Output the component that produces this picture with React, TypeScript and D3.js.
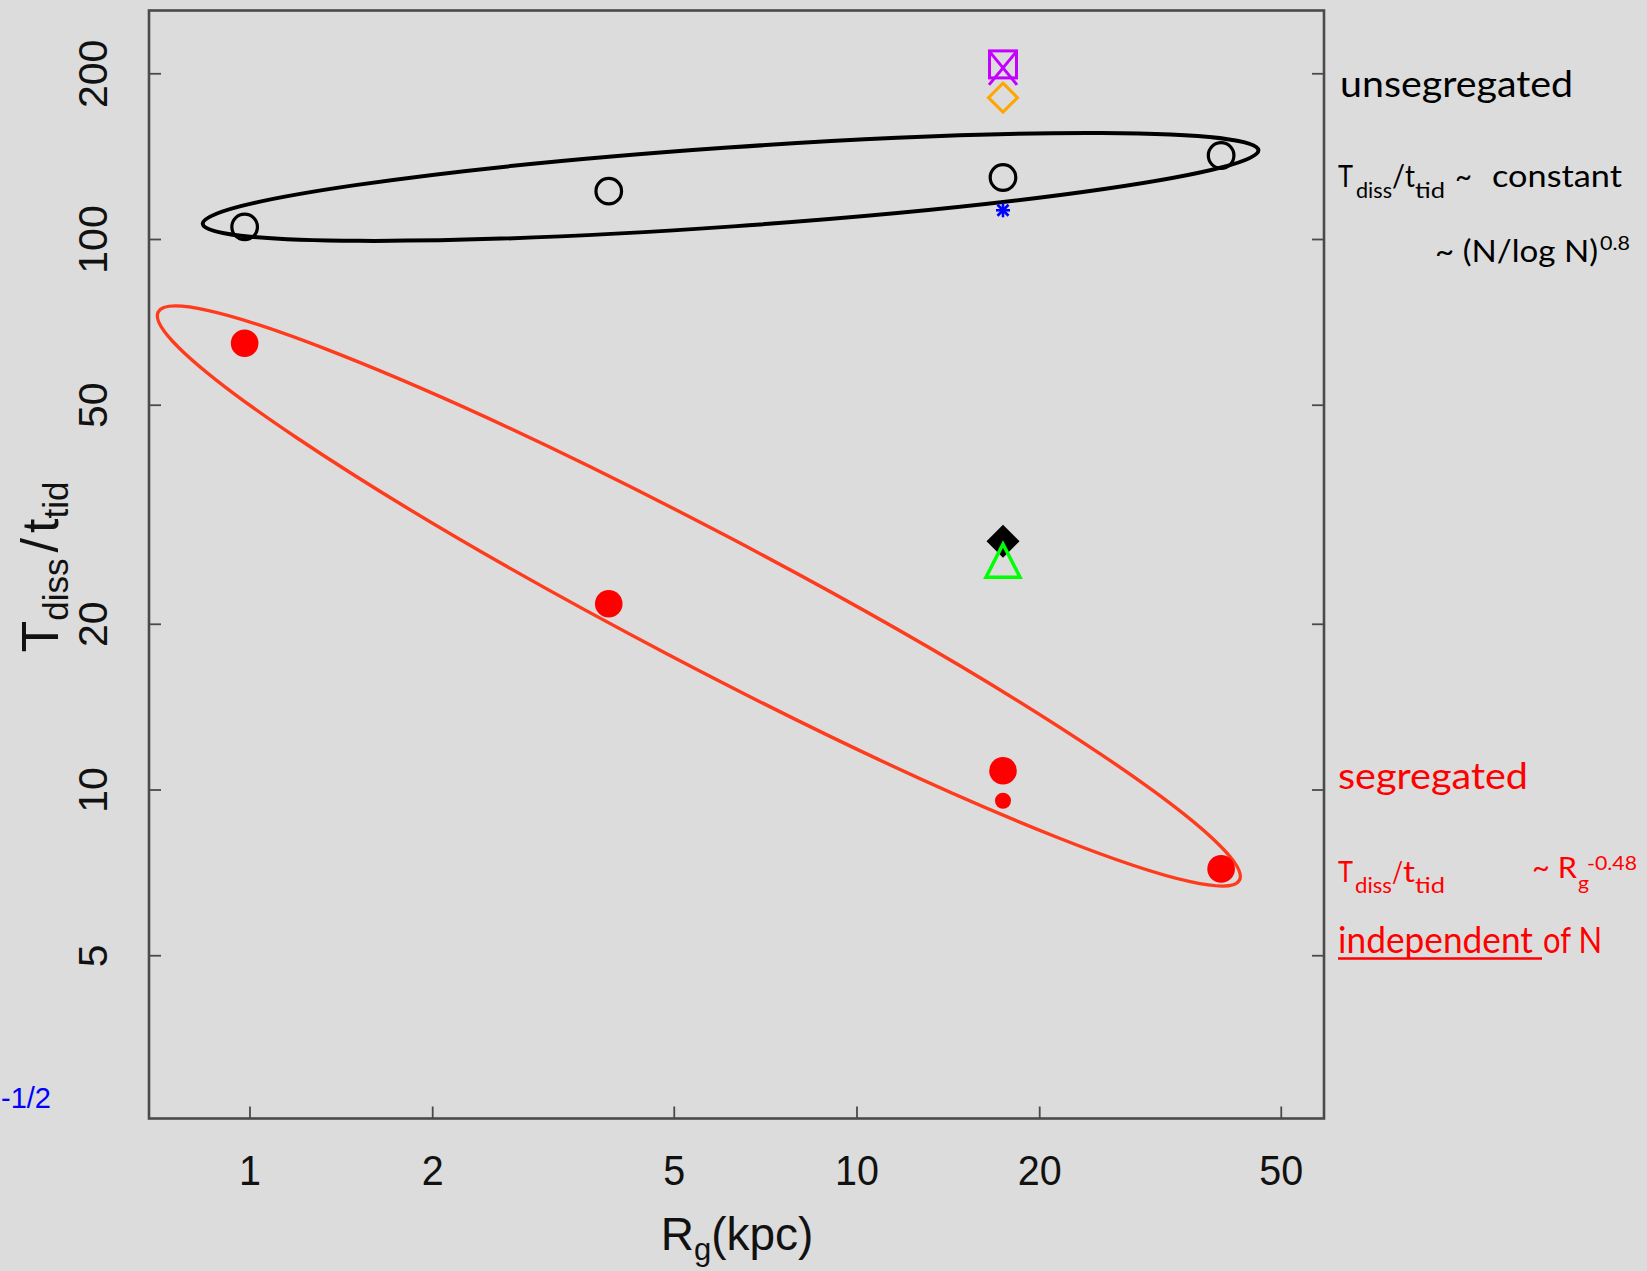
import React from 'react';
import * as d3 from 'd3';

const W = 1647;
const H = 1271;

// Axis ticks
const xTicks = [1, 2, 5, 10, 20, 50];
const yTicks = [5, 10, 20, 50, 100, 200];

// Main series: Rg (kpc) and Tdiss/ttid
const rgGrid = [0.98, 3.9, 17.4, 39.8];
const unsegregated = [105.4, 122.4, 129.6, 142.1];
const segregated = [64.8, 21.8, 10.84, 7.19];

// Extra points at Rg ~ 17.4 kpc
const rgExtra = 17.4;
const smallRed = 9.56;
const blueStar = 113;
const orangeDiamond = 181;
const magentaSquare = 208;
const magentaCross = 205;
const blackDiamond = 28.3;
const greenTriangle = 26.1;

// Annotation ellipses: end points of the major axis in data units
const blackEllipseEnds: [number, number][] = [[0.836, 106.8], [45.85, 145.3]];
const redEllipseEnds: [number, number][] = [[0.706, 73.85], [42.67, 6.86]];

const FRAME = { left: 149, right: 1324, top: 10.5, bottom: 1118.5 };
const BG = '#dcdcdc';
const AXIS = '#4a4a4a';
const SANS = "'Liberation Sans', Arial, Helvetica, sans-serif";
const HUM = "Lato, 'Open Sans', sans-serif";

export default function App() {
  const x = d3.scaleLog().domain([0.6818, 58.8]).range([FRAME.left, FRAME.right]);
  const y = d3.scaleLog().domain([2.531, 260.6]).range([FRAME.bottom, FRAME.top]);

  const ellipse = (ends: [number, number][], halfWidth: number, color: string, sw: number) => {
    const x1 = x(ends[0][0]), y1 = y(ends[0][1]);
    const x2 = x(ends[1][0]), y2 = y(ends[1][1]);
    const cx = (x1 + x2) / 2, cy = (y1 + y2) / 2;
    const a = Math.hypot(x2 - x1, y2 - y1) / 2;
    const ang = (Math.atan2(y2 - y1, x2 - x1) * 180) / Math.PI;
    return (
      <ellipse cx={cx} cy={cy} rx={a} ry={halfWidth} fill="none" stroke={color} strokeWidth={sw}
        transform={`rotate(${ang},${cx},${cy})`} />
    );
  };

  const cx0 = x(rgExtra);
  const tick = 12;

  return (
    <svg width={W} height={H} style={{ position: 'absolute', left: 0, top: 0, display: 'block' }}
      fontFamily={SANS}>
      <rect x={0} y={0} width={W} height={H} fill={BG} />

      {/* ticks */}
      {xTicks.map((t) => (
        <g key={'xt' + t}>
          <line x1={x(t)} x2={x(t)} y1={FRAME.bottom} y2={FRAME.bottom - tick} stroke={AXIS} strokeWidth={1.8} />
          <text transform={`translate(${x(t)},1185) scale(0.94,1)`} textAnchor="middle" fontSize={42} fill="#111">{t}</text>
        </g>
      ))}
      {yTicks.map((t) => (
        <g key={'yt' + t}>
          <line x1={FRAME.left} x2={FRAME.left + tick} y1={y(t)} y2={y(t)} stroke={AXIS} strokeWidth={1.8} />
          <line x1={FRAME.right} x2={FRAME.right - tick} y1={y(t)} y2={y(t)} stroke={AXIS} strokeWidth={1.8} />
          <text transform={`translate(107,${y(t)}) rotate(-90)`} textAnchor="middle" fontSize={41} fill="#111">{t}</text>
        </g>
      ))}

      {/* frame */}
      <rect x={FRAME.left} y={FRAME.top} width={FRAME.right - FRAME.left} height={FRAME.bottom - FRAME.top}
        fill="none" stroke={AXIS} strokeWidth={2.6} />

      {/* axis titles */}
      <text x={737} y={1250} textAnchor="middle" fontSize={46} fill="#111">
        R<tspan fontSize={31} dy={10}>g</tspan><tspan dy={-10}>(kpc)</tspan>
      </text>
      <text transform="translate(58,567) rotate(-90)" textAnchor="middle" fontSize={52} fill="#111">
        T<tspan fontSize={35} dy={10}>diss</tspan><tspan dy={-10} dx={6}>/</tspan><tspan dx={5}>t</tspan>
        <tspan fontSize={35} dy={10}>tid</tspan>
      </text>

      {/* ellipses */}
      {ellipse(blackEllipseEnds, 39.5, '#000', 4)}
      {ellipse(redEllipseEnds, 66, '#ff3b1d', 3.4)}

      {/* unsegregated: open black circles */}
      {rgGrid.map((r, i) => (
        <circle key={'u' + i} cx={x(r)} cy={y(unsegregated[i])} r={12.8} fill="none" stroke="#000" strokeWidth={3.2} />
      ))}
      {/* segregated: filled red circles */}
      {rgGrid.map((r, i) => (
        <circle key={'s' + i} cx={x(r)} cy={y(segregated[i])} r={13.8} fill="#ff0000" />
      ))}
      <circle cx={cx0} cy={y(smallRed)} r={8} fill="#ff0000" />

      {/* blue star */}
      <g stroke="#0000ff" strokeWidth={2.6} transform={`translate(${cx0},${y(blueStar)})`}>
        <line x1={-7} x2={7} y1={0} y2={0} />
        <line x1={0} x2={0} y1={-7} y2={7} />
        <line x1={-5.5} x2={5.5} y1={-5.5} y2={5.5} />
        <line x1={-5.5} x2={5.5} y1={5.5} y2={-5.5} />
      </g>

      {/* orange diamond */}
      <path transform={`translate(${cx0},${y(orangeDiamond)})`} d="M0,-14.5L14.5,0L0,14.5L-14.5,0Z"
        fill="none" stroke="#ffa500" strokeWidth={3} />

      {/* magenta square + cross */}
      <rect x={cx0 - 13.5} y={y(magentaSquare) - 13.5} width={27} height={27} fill="none" stroke="#c400ff" strokeWidth={3} />
      <g stroke="#c400ff" strokeWidth={3} transform={`translate(${cx0},${y(magentaCross)})`}>
        <line x1={-14} y1={-17} x2={14} y2={17} />
        <line x1={14} y1={-17} x2={-14} y2={17} />
      </g>

      {/* black filled diamond */}
      <path transform={`translate(${cx0},${y(blackDiamond)})`} d="M0,-16.5L16.5,0L0,16.5L-16.5,0Z" fill="#000" />

      {/* green open triangle */}
      <path transform={`translate(${cx0},${y(greenTriangle)})`} d="M0,-16.5L17,16.5L-17,16.5Z"
        fill="none" stroke="#00ff00" strokeWidth={3.5} strokeLinejoin="miter" />

      {/* right annotations: unsegregated */}
      <g fontFamily={HUM} fill="#000">
        <text x={1340} y={97} fontSize={37} textLength={233} lengthAdjust="spacingAndGlyphs">unsegregated</text>
        <text x={1338} y={187} fontSize={31} textLength={15} lengthAdjust="spacingAndGlyphs">T</text>
        <text x={1356} y={198} fontSize={21} textLength={36} lengthAdjust="spacingAndGlyphs">diss</text>
        <text x={1392} y={187} fontSize={31} textLength={13} lengthAdjust="spacingAndGlyphs">/</text>
        <text x={1405} y={187} fontSize={31} textLength={10} lengthAdjust="spacingAndGlyphs">t</text>
        <text x={1415} y={198} fontSize={21} textLength={30} lengthAdjust="spacingAndGlyphs">tid</text>
        <text x={1455} y={187} fontSize={31} textLength={17} lengthAdjust="spacingAndGlyphs">~</text>
        <text x={1492} y={187} fontSize={31} textLength={130} lengthAdjust="spacingAndGlyphs">constant</text>
        <text x={1435} y={262} fontSize={30} textLength={163} lengthAdjust="spacingAndGlyphs">~ (N/log N)</text>
        <text x={1600} y={250} fontSize={19} textLength={30} lengthAdjust="spacingAndGlyphs">0.8</text>
      </g>

      {/* right annotations: segregated */}
      <g fontFamily={HUM} fill="#ff0000">
        <text x={1338} y={789} fontSize={37} textLength={190} lengthAdjust="spacingAndGlyphs">segregated</text>
        <text x={1338} y={882} fontSize={29} textLength={15} lengthAdjust="spacingAndGlyphs">T</text>
        <text x={1355} y={893} fontSize={21} textLength={37} lengthAdjust="spacingAndGlyphs">diss</text>
        <text x={1392} y={882} fontSize={29} textLength={11} lengthAdjust="spacingAndGlyphs">/</text>
        <text x={1403} y={882} fontSize={29} textLength={12} lengthAdjust="spacingAndGlyphs">t</text>
        <text x={1415} y={893} fontSize={21} textLength={30} lengthAdjust="spacingAndGlyphs">tid</text>
        <text x={1532} y={878} fontSize={29} textLength={45} lengthAdjust="spacingAndGlyphs">~ R</text>
        <text x={1578} y={890} fontSize={20} textLength={11} lengthAdjust="spacingAndGlyphs">g</text>
        <text x={1587} y={870} fontSize={20} textLength={50} lengthAdjust="spacingAndGlyphs">-0.48</text>
        <text x={1338} y={953} fontSize={36} textLength={195} lengthAdjust="spacingAndGlyphs">independent</text>
        <text x={1543} y={953} fontSize={36} textLength={59} lengthAdjust="spacingAndGlyphs">of N</text>
        <line x1={1338} x2={1542} y1={958.5} y2={958.5} stroke="#ff0000" strokeWidth={2.5} />
      </g>

      {/* blue label at left edge */}
      <text x={1} y={1108} textAnchor="start" fontSize={29} fill="#0000ff">-1/2</text>
    </svg>
  );
}
